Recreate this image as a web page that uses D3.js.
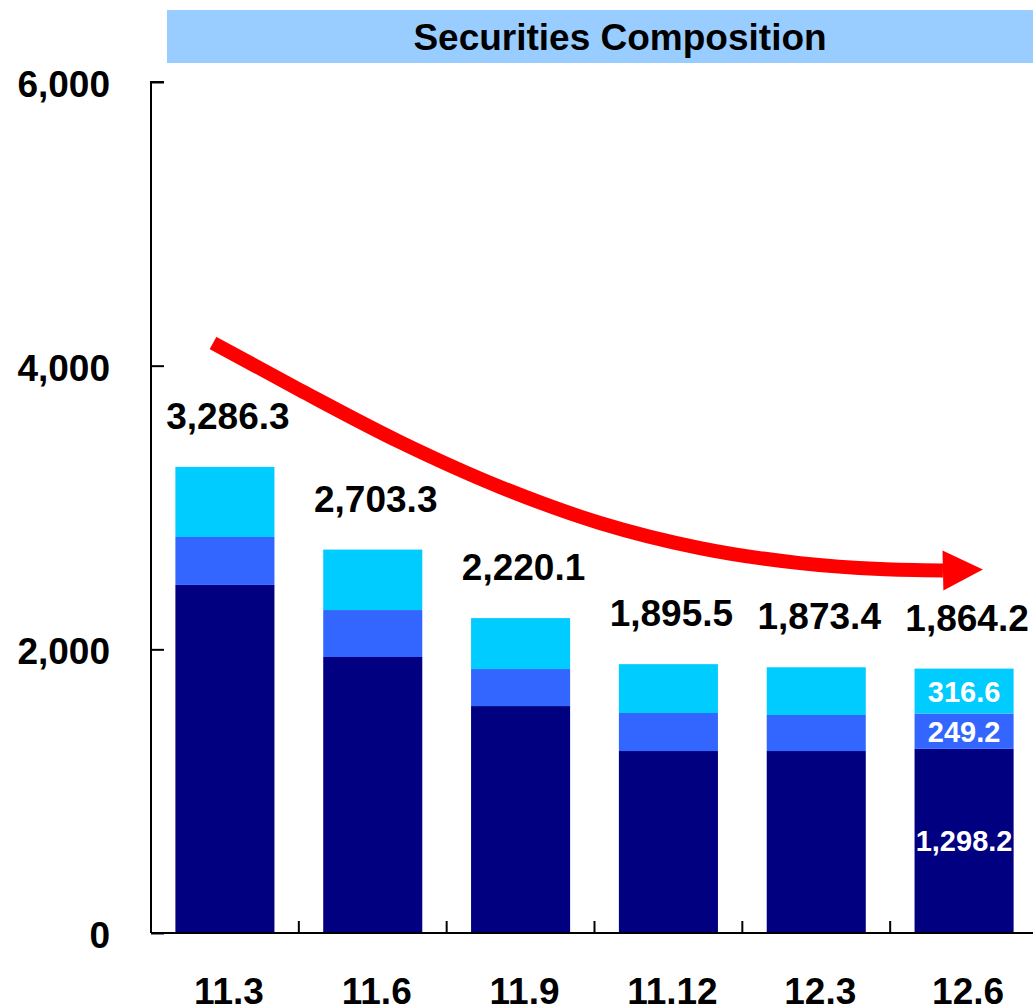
<!DOCTYPE html>
<html>
<head>
<meta charset="utf-8">
<script src="https://cdn.jsdelivr.net/npm/d3@7"></script>
<style>
  html, body { margin: 0; padding: 0; background: #fff; overflow: hidden; }
  svg { display: block; font-family: Arial, "Liberation Sans", sans-serif; font-weight: bold; }
</style>
</head>
<body>
<svg id="chart" width="1033" height="1005"></svg>
<script>
const title = "Securities Composition";
const categories = ["11.3", "11.6", "11.9", "11.12", "12.3", "12.6"];
const seriesKeys = ["base", "middle", "top"];
const baseValues   = [2454, 1946, 1600, 1283, 1283, 1298.2];
const middleValues = [338, 331, 261, 268, 254, 249.2];
const topValues    = [494.3, 426.3, 359.1, 344.5, 336.4, 316.6];
const totalLabels  = ["3,286.3", "2,703.3", "2,220.1", "1,895.5", "1,873.4", "1,864.2"];
const totalValues  = [3286.3, 2703.3, 2220.1, 1895.5, 1873.4, 1864.2];
const segmentLabelCategory = "12.6";
const segmentLabels = ["1,298.2", "249.2", "316.6"];
const yTicks = [0, 2000, 4000, 6000];
const yTickLabels = ["0", "2,000", "4,000", "6,000"];
// trend arrow annotation path, in (category index, value) units
const arrowIdx    = [-0.080, 0.508, 1.184, 1.861, 2.537, 3.214, 3.890, 4.431, 4.857];
const arrowValues = [4160, 3828, 3462, 3145, 2891, 2714, 2608, 2566, 2556];
const arrowTip    = [5.127, 2562];

const colors = { base: "#000080", middle: "#3366FF", top: "#00CCFF" };

const svg = d3.select("#chart");
const x0 = 151, y0 = 933;
const x = d3.scaleBand().domain(categories).range([x0, x0 + 887]).paddingInner(0.33).paddingOuter(0.165);
const y = d3.scaleLinear().domain([0, 6000]).range([y0, 82]);
const xi = d3.scaleLinear().domain([0, 1]).range([x(categories[0]) + x.bandwidth() / 2, x(categories[1]) + x.bandwidth() / 2]);

// title band
svg.append("rect").attr("x", 167).attr("y", 10).attr("width", 950).attr("height", 53).attr("fill", "#99CCFF");
svg.append("text").attr("x", 620).attr("y", 50).attr("text-anchor", "middle")
  .attr("font-size", 37).attr("fill", "#000").text(title);

// stacked data
const rows = categories.map((c, i) => ({ cat: c, base: baseValues[i], middle: middleValues[i], top: topValues[i] }));
const stacked = d3.stack().keys(seriesKeys)(rows);

svg.append("g").selectAll("g").data(stacked).join("g")
  .attr("fill", d => colors[d.key])
  .selectAll("rect").data(d => d).join("rect")
  .attr("x", d => x(d.data.cat))
  .attr("width", x.bandwidth())
  .attr("y", d => y(d[1]))
  .attr("height", d => y(d[0]) - y(d[1]));

// axes
const yAxis = d3.axisRight(y).tickValues(yTicks).tickSize(13).tickFormat("");
const gy = svg.append("g").attr("transform", `translate(${x0},0)`).call(yAxis);
gy.select(".domain").attr("stroke", "#000").attr("stroke-width", 2).attr("d", `M13,${y(6000)}H0V${y0}`);
gy.selectAll(".tick line").attr("stroke", "#000").attr("stroke-width", 2);

svg.append("g").selectAll("text").data(yTicks).join("text")
  .attr("x", 110).attr("y", d => y(d) + 15).attr("text-anchor", "end")
  .attr("font-size", 37).attr("fill", "#000")
  .text((d, i) => yTickLabels[i]);

// x axis line and ticks at band boundaries
svg.append("line").attr("x1", x0).attr("x2", 1033).attr("y1", y0).attr("y2", y0)
  .attr("stroke", "#000").attr("stroke-width", 2);
svg.append("g").selectAll("line").data(categories.slice(1)).join("line")
  .attr("x1", d => x(d) - x.step() * x.paddingInner() / 2)
  .attr("x2", d => x(d) - x.step() * x.paddingInner() / 2)
  .attr("y1", y0).attr("y2", y0 - 12).attr("stroke", "#000").attr("stroke-width", 2);

svg.append("g").selectAll("text").data(categories).join("text")
  .attr("x", d => x(d) + x.bandwidth() / 2 + 4).attr("y", 1004)
  .attr("text-anchor", "middle").attr("font-size", 37).attr("fill", "#000")
  .text(d => d);

// total labels
svg.append("g").selectAll("text").data(categories).join("text")
  .attr("x", d => x(d) + x.bandwidth() / 2 + 3)
  .attr("y", (d, i) => y(totalValues[i]) - 38)
  .attr("text-anchor", "middle").attr("font-size", 37).attr("fill", "#000")
  .text((d, i) => totalLabels[i]);

// segment labels for last bar
const lastIdx = categories.indexOf(segmentLabelCategory);
svg.append("g").selectAll("text").data(stacked).join("text")
  .attr("x", x(segmentLabelCategory) + x.bandwidth() / 2)
  .attr("y", d => (y(d[lastIdx][0]) + y(d[lastIdx][1])) / 2)
  .attr("dy", "0.36em")
  .attr("text-anchor", "middle").attr("font-size", 29).attr("fill", "#fff")
  .text((d, i) => segmentLabels[i]);

// red trend arrow
const arrowPts = arrowIdx.map((v, i) => [xi(v), y(arrowValues[i])]);
const lineGen = d3.line().curve(d3.curveMonotoneX);
svg.append("path").attr("d", lineGen(arrowPts)).attr("fill", "none")
  .attr("stroke", "#FF0000").attr("stroke-width", 14).attr("stroke-linecap", "butt");
const e = arrowPts[arrowPts.length - 1];
const tip = [xi(arrowTip[0]), y(arrowTip[1])];
const ang = Math.atan2(tip[1] - e[1], tip[0] - e[0]);
const hw = 20;
const hx = Math.sin(ang) * hw, hy = Math.cos(ang) * hw;
svg.append("path")
  .attr("d", `M${tip[0]},${tip[1]}L${e[0] + hx},${e[1] - hy}L${e[0] - hx},${e[1] + hy}Z`)
  .attr("fill", "#FF0000");
</script>
</body>
</html>
